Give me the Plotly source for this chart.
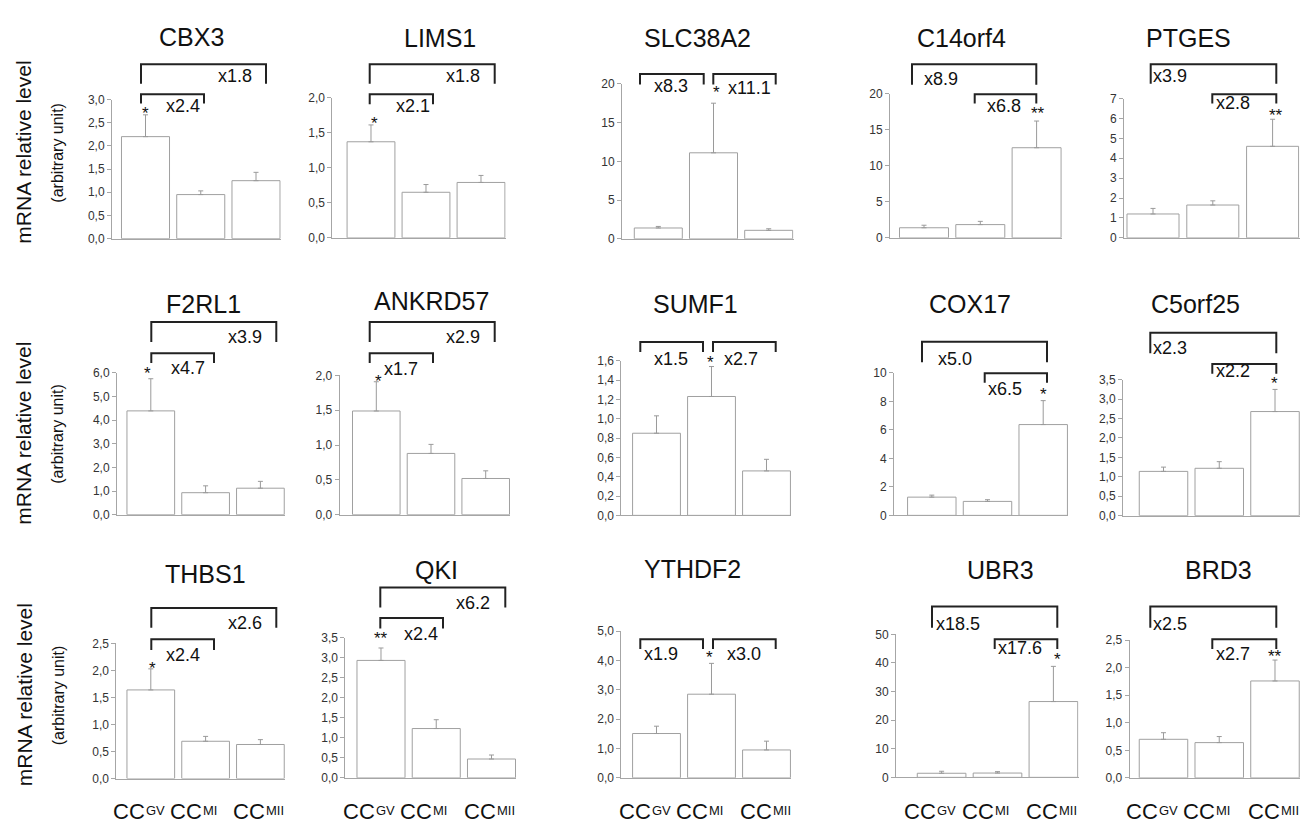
import plotly.graph_objects as go

W, H = 1308, 826
FONT = "Liberation Sans, Arial, sans-serif"

# ---------------- data ----------------
genes = ["CBX3", "LIMS1", "SLC38A2", "C14orf4", "PTGES",
         "F2RL1", "ANKRD57", "SUMF1", "COX17", "C5orf25",
         "THBS1", "QKI", "YTHDF2", "UBR3", "BRD3"]
stage_main = ["CC", "CC", "CC"]
stage_sub = ["GV", "MI", "MII"]

cc_gv = [2.20, 1.37, 1.40, 1.40, 1.20, 4.39, 1.49, 0.85, 1.28, 1.14, 1.64, 2.93, 1.51, 1.43, 0.70]
cc_mi = [0.95, 0.65, 11.10, 1.84, 1.65, 0.93, 0.88, 1.23, 0.98, 1.22, 0.69, 1.23, 2.85, 1.50, 0.64]
cc_mii = [1.25, 0.79, 1.10, 12.50, 4.60, 1.12, 0.52, 0.46, 6.37, 2.68, 0.63, 0.47, 0.95, 26.50, 1.76]

sem_gv = [0.47, 0.24, 0.20, 0.35, 0.28, 1.36, 0.42, 0.18, 0.14, 0.11, 0.39, 0.31, 0.25, 0.70, 0.12]
sem_mi = [0.08, 0.11, 6.40, 0.45, 0.21, 0.29, 0.13, 0.31, 0.12, 0.17, 0.09, 0.22, 1.05, 0.50, 0.11]
sem_mii = [0.18, 0.10, 0.20, 3.70, 1.36, 0.29, 0.11, 0.12, 1.68, 0.57, 0.09, 0.10, 0.30, 12.30, 0.38]

y_max = [3.0, 2.0, 20, 20, 7, 6.0, 2.0, 1.6, 10, 3.5, 2.5, 3.5, 5.0, 50, 2.5]
y_step = [0.5, 0.5, 5, 5, 1, 1.0, 0.5, 0.2, 2, 0.5, 0.5, 0.5, 1.0, 10, 0.5]
y_fmt = [".1f", ".1f", "d", "d", "d", ".1f", ".1f", ".1f", "d", ".1f", ".1f", ".1f", ".1f", "d", ".1f"]

fold_a = ["x1.8", "x1.8", "x8.3", "x8.9", "x3.9", "x3.9", "x2.9", "x1.5", "x5.0", "x2.3", "x2.6", "x6.2", "x1.9", "x18.5", "x2.5"]
fold_b = ["x2.4", "x2.1", "x11.1", "x6.8", "x2.8", "x4.7", "x1.7", "x2.7", "x6.5", "x2.2", "x2.4", "x2.4", "x3.0", "x17.6", "x2.7"]
signif = ["*", "*", "*", "**", "**", "*", "*", "*", "*", "*", "*", "**", "*", "*", "**"]

# ---------------- layout geometry (pixels) ----------------
# axis-left, first-bar centre, category spacing, y of zero, y of top tick
geom = [
    (104, 137.5, 55.25, 227.5, 86), (324.3, 363, 55, 226.7, 84), (614, 650.3, 55.2, 227.7, 70),
    (882, 916, 56.3, 226.7, 80), (1116, 1145, 59.8, 226.7, 85),
    (109, 142.8, 54.8, 508.3, 364), (331.7, 368.3, 54.7, 508.3, 366.7), (613.3, 648.5, 55, 509, 351.7),
    (886, 923.8, 55.7, 509, 364), (1115, 1155.5, 55.75, 509.3, 371),
    (108.3, 142.8, 54.8, 776.7, 639.3), (337.3, 373, 55.25, 776, 633.3), (613.3, 648.5, 55, 776, 626.7),
    (888, 933.6, 55.9, 775.5, 630), (1121.7, 1155.5, 55.75, 776, 636),
]
title_pos = [(183, 22), (432, 23), (690, 23), (953, 23), (1180, 23),
             (195, 294), (423, 291), (687, 294), (962, 294), (1187, 294),
             (197, 569), (428, 565), (685, 564), (992, 565), (1210, 565)]
# brackets: (x1, x2, ytop, yleg)
brackets = [
    [(133, 258, 50, 70), (133, 196, 80.7, 90)],
    [(361.7, 486.7, 50, 70), (361.7, 425, 80.7, 90.7)],
    [(632, 695.7, 60, 70.7), (705.3, 767.7, 60, 70.7)],
    [(904, 1028.3, 50, 71), (966.7, 1028.3, 80.7, 90)],
    [(1142.7, 1268.3, 50, 70), (1204.3, 1268.3, 80.7, 90)],
    [(143.3, 268.3, 312.3, 332.7), (143.3, 206, 344, 354)],
    [(361.7, 486.7, 312.3, 332.7), (361.7, 425, 344, 354)],
    [(632.3, 695, 332.7, 342.7), (705, 767.7, 332.7, 342.7)],
    [(914, 1039, 332.3, 353.3), (976.7, 1039, 364.3, 374)],
    [(1142.3, 1268.3, 323.3, 344), (1204.3, 1268.3, 355, 365)],
    [(143.3, 268.3, 603.3, 623.3), (143.3, 206, 635, 646)],
    [(372.3, 497.3, 582.3, 602.7), (372.3, 435, 613.3, 624)],
    [(632.3, 695, 635, 645), (705, 767.7, 635, 645)],
    [(924, 1049.3, 601.7, 623.3), (986.7, 1049.3, 635, 645)],
    [(1142.3, 1268.3, 601.7, 623.3), (1204.3, 1268.3, 635, 645)],
]
# label positions: fold_a, fold_b, star (x, y centre)
label_pos = [
    [(226.7, 61.7), (175, 92.7), (137.7, 97.3)],
    [(455, 61.7), (405, 92.7), (366, 107.3)],
    [(663, 72.7), (741.7, 74), (708, 76)],
    [(933, 65), (996, 92.7), (1030, 97.3)],
    [(1161.7, 61.7), (1225, 90), (1268, 99.3)],
    [(236.7, 327.3), (180, 359.3), (139.3, 361.7)],
    [(455, 327.3), (393.3, 360), (370, 370)],
    [(663.3, 350), (733.3, 350), (702.3, 350)],
    [(947.3, 350), (996.7, 380), (1035, 383.3)],
    [(1161.7, 338.3), (1225, 361.7), (1266.7, 371.7)],
    [(236.7, 618.3), (175, 650.7), (144.3, 661.7)],
    [(465, 598.3), (413.3, 630), (373.3, 631.7)],
    [(652.7, 650), (735.7, 650), (701.7, 651)],
    [(950, 619.3), (1011.7, 644), (1049.3, 652.7)],
    [(1161.7, 619.3), (1225, 650), (1266.7, 650)],
]
row_label_y = [140, 426, 692]
cat_label_y = 810               # centre of the category labels (px)
cat_label_shift = [-6, -4, 5]   # px offset of the "CC" right edge from bar centre


def px(x):
    return x / W


def py(y):
    return 1 - y / H


fig = go.Figure()
shapes = []
annotations = []
AX = "#a6a6a6"

for i, g in enumerate(genes):
    n = "" if i == 0 else str(i + 1)
    L, c1, d, y0, yt = geom[i]
    xr0 = -(c1 - L) / d
    xr1 = 2.45
    R = c1 + xr1 * d
    vals = [cc_gv[i], cc_mi[i], cc_mii[i]]
    errs = [sem_gv[i], sem_mi[i], sem_mii[i]]
    fig.add_trace(go.Bar(
        x=[0, 1, 2], y=vals, width=0.87,
        marker=dict(color="white", line=dict(color="#a0a0a0", width=1)),
        error_y=dict(type="data", symmetric=False, array=errs, arrayminus=[0, 0, 0],
                     color="#9a9a9a", thickness=1, width=2.5),
        xaxis="x" + n, yaxis="y" + n, showlegend=False, hoverinfo="skip",
    ))
    fig.layout["xaxis" + n] = dict(
        domain=[px(L), px(R)], range=[xr0, xr1], anchor="y" + n,
        showline=True, linecolor=AX, linewidth=1, showgrid=False, zeroline=False,
        ticks="", showticklabels=False,
    )
    fig.layout["yaxis" + n] = dict(
        domain=[py(y0), py(yt)], range=[0, y_max[i]], anchor="x" + n,
        dtick=y_step[i], tick0=0, tickformat=y_fmt[i],
        showline=True, linecolor=AX, linewidth=1, showgrid=False, zeroline=False,
        ticks="outside", ticklen=4, tickcolor=AX,
        tickfont=dict(family=FONT, size=12, color="#333"),
    )
    # category labels under the bottom row
    if i >= 10:
        for k in range(3):
            annotations.append(dict(text=stage_main[k], x=k, y=py(cat_label_y), xref="x" + n, yref="paper",
                                    xanchor="right", yanchor="middle", xshift=cat_label_shift[k],
                                    borderpad=0, borderwidth=0,
                                    showarrow=False, font=dict(family=FONT, size=22, color="#111")))
            annotations.append(dict(text=stage_sub[k], x=k, y=py(cat_label_y - 1), xref="x" + n, yref="paper",
                                    xanchor="left", yanchor="middle", xshift=cat_label_shift[k] + 1,
                                    borderpad=0, borderwidth=0,
                                    showarrow=False, font=dict(family=FONT, size=13, color="#111")))
    # title
    tx, ty = title_pos[i]
    annotations.append(dict(text=g, x=px(tx), y=py(ty), xref="paper", yref="paper",
                            xanchor="center", yanchor="middle", showarrow=False,
                            font=dict(family=FONT, size=25, color="#111")))
    # brackets
    for (x1, x2, ytop, yleg) in brackets[i]:
        shapes.append(dict(type="path", xref="paper", yref="paper",
                           path=f"M {px(x1)},{py(yleg)} L {px(x1)},{py(ytop)} L {px(x2)},{py(ytop)} L {px(x2)},{py(yleg)}",
                           line=dict(color="#222", width=2)))
    (ax_, ay_), (bx_, by_), (sx_, sy_) = label_pos[i]
    for txt, (lx, ly) in ((fold_a[i], (ax_, ay_)), (fold_b[i], (bx_, by_))):
        annotations.append(dict(text=txt, x=px(lx), y=py(ly), xref="paper", yref="paper",
                                xanchor="center", yanchor="middle", showarrow=False,
                                font=dict(family=FONT, size=18, color="#111")))
    annotations.append(dict(text=signif[i], x=px(sx_), y=py(sy_ + 3), xref="paper", yref="paper",
                            xanchor="center", yanchor="middle", showarrow=False,
                            font=dict(family=FONT, size=17, color="#111")))

for ry in row_label_y:
    annotations.append(dict(text="mRNA relative level", x=px(16), y=py(ry), xref="paper", yref="paper",
                            xanchor="center", yanchor="middle", textangle=-90, showarrow=False,
                            font=dict(family=FONT, size=21, color="#111")))
    annotations.append(dict(text="(arbitrary unit)", x=px(50), y=py(ry), xref="paper", yref="paper",
                            xanchor="center", yanchor="middle", textangle=-90, showarrow=False,
                            font=dict(family=FONT, size=16, color="#111")))

fig.update_layout(
    width=W, height=H, margin=dict(l=0, r=0, t=0, b=0),
    paper_bgcolor="white", plot_bgcolor="white",
    separators=",.", shapes=shapes, annotations=annotations,
    font=dict(family=FONT), bargap=0.13,
)

fig.write_html("out.html")
